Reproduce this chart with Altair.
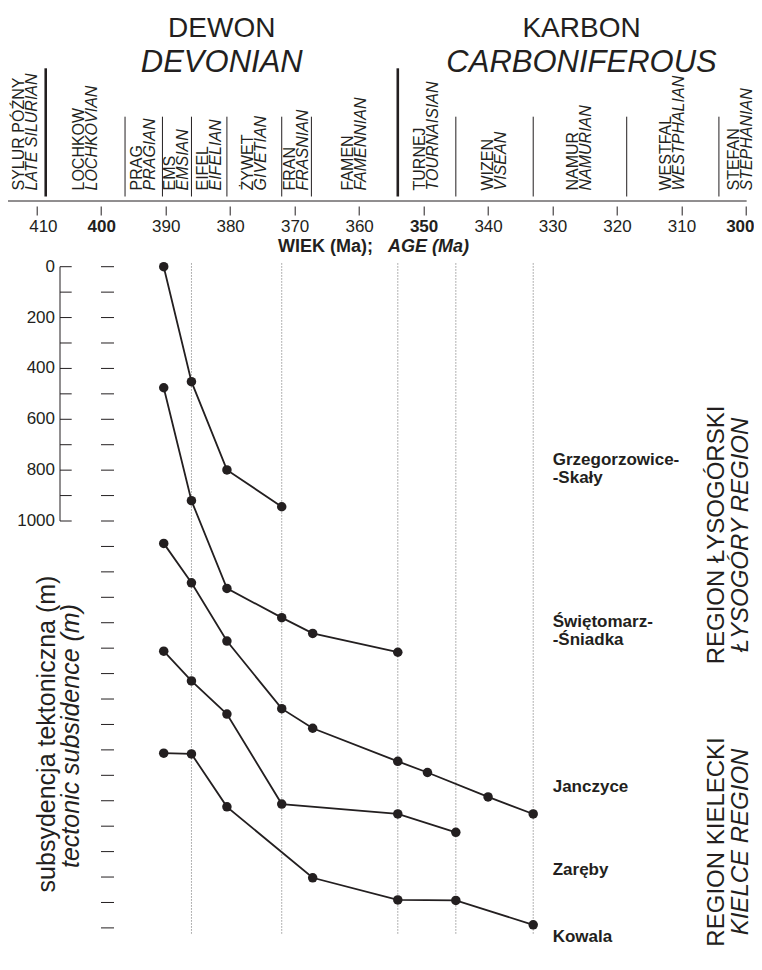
import altair as alt
import pandas as pd

FONT = "Liberation Sans"
INK = "#231f20"
GRID = "#9a9a9a"

# ---------------- data ----------------
# subsidence curves: age (Ma) and tectonic subsidence (m, curves offset for display)
grz_age = [390.3, 386.0, 380.5, 372.0]
grz_sub = [0, 452, 799, 944]
swi_age = [390.3, 386.0, 380.5, 372.0, 367.2, 354.0]
swi_sub = [476, 920, 1265, 1380, 1442, 1516]
jan_age = [390.3, 386.0, 380.5, 372.0, 367.2, 354.0, 349.4, 340.0, 333.0]
jan_sub = [1088, 1243, 1472, 1738, 1815, 1945, 1989, 2085, 2152]
zar_age = [390.3, 386.0, 380.5, 372.0, 354.0, 345.0]
zar_sub = [1512, 1629, 1759, 2113, 2152, 2224]
kow_age = [390.3, 386.0, 380.5, 367.2, 354.0, 345.0, 333.0]
kow_sub = [1913, 1916, 2124, 2403, 2490, 2492, 2588]
series_names = ["Grzegorzowice-Skały", "Świętomarz-Śniadka", "Janczyce", "Zaręby", "Kowala"]

# site labels (two-line names split) and the depth of their baselines
site_label_text = ["Grzegorzowice-", "-Skały", "Świętomarz-", "-Śniadka", "Janczyce", "Zaręby", "Kowala"]
site_label_depth = [780, 849, 1416, 1488, 2064, 2392, 2654]

# chronostratigraphy
stage_bounds = [414.8, 408.6, 396.3, 390.5, 386.0, 380.5, 372.0, 367.4, 354.0, 345.0, 333.0, 318.5, 304.2, 297.6]
stage_pl = ["SYLUR PÓŹNY", "LOCHKOW", "PRAG", "EMS", "EIFEL", "ŻYWET", "FRAN", "FAMEN",
            "TURNEJ", "WIZEN", "NAMUR", "WESTFAL", "STEFAN"]
stage_en = ["LATE SILURIAN", "LOCHKOVIAN", "PRAGIAN", "EMSIAN", "EIFELIAN", "GIVETIAN", "FRASNIAN",
            "FAMENNIAN", "TOURNAISIAN", "VISEAN", "NAMURIAN", "WESTPHALIAN", "STEPHANIAN"]
period_bounds = [408.6, 354.0]
grid_ages = [386.0, 372.0, 354.0, 345.0, 333.0]
era_pl = ["DEWON", "KARBON"]
era_en = ["DEVONIAN", "CARBONIFEROUS"]
era_start = [408.6, 354.0]
era_end = [354.0, 297.0]

age_ticks = [410, 400, 390, 380, 370, 360, 350, 340, 330, 320, 310, 300]
age_extent = [414.65, 299.9]
depth_labels = [0, 200, 400, 600, 800, 1000]
depth_axis_ticks = list(range(0, 1001, 100))
depth_col_ticks = list(range(0, 2601, 100))

region_pl = ["REGION ŁYSOGÓRSKI", "REGION KIELECKI"]
region_en = ["ŁYSOGÓRY REGION", "KIELCE REGION"]
region_depth = [1055, 2262]

# ---------------- tables ----------------
rows = []
for name, ages, subs in zip(series_names,
                            [grz_age, swi_age, jan_age, zar_age, kow_age],
                            [grz_sub, swi_sub, jan_sub, zar_sub, kow_sub]):
    for i, (a, s) in enumerate(zip(ages, subs)):
        rows.append({"series": name, "age": a, "sub": s, "order": i})
df = pd.DataFrame(rows)

stage_mid = [(stage_bounds[i] + stage_bounds[i + 1]) / 2 for i in range(len(stage_pl))]
df_stage = pd.DataFrame({"age": stage_mid, "pl": stage_pl, "en": stage_en})
inner = stage_bounds[1:-1]
df_thin = pd.DataFrame({"age": [b for b in inner if b not in period_bounds]})
df_thick = pd.DataFrame({"age": period_bounds})
df_grid = pd.DataFrame({"age": grid_ages})
df_era = pd.DataFrame({"age": [(a + b) / 2 for a, b in zip(era_start, era_end)],
                       "pl": era_pl, "en": era_en})
df_base = pd.DataFrame({"age": [age_extent[0]], "a1": [age_extent[1]]})
df_axline = pd.DataFrame({"sub": [depth_axis_ticks[0]], "d1": [depth_axis_ticks[-1]]})
df_t1 = pd.DataFrame({"sub": depth_axis_ticks})
df_t2 = pd.DataFrame({"sub": depth_col_ticks})
df_ylab = pd.DataFrame({"sub": depth_labels, "t": [str(v) for v in depth_labels]})
df_site = pd.DataFrame({"t": site_label_text, "sub": site_label_depth})
df_region = pd.DataFrame({"pl": region_pl, "en": region_en, "sub": region_depth})
df_one = pd.DataFrame({"k": [0]})

xs = alt.Scale(domain=[300, 410], reverse=True, nice=False, zero=False)
ys = alt.Scale(domain=[0, 2600], reverse=True, nice=False, zero=False)

W = 709.3
H = 661.2

x_axis = alt.Axis(orient="bottom", offset=-721.9, values=age_ticks, domain=False,
                  ticks=True, tickSize=9, tickColor=INK, tickWidth=1,
                  labelFont=FONT, labelFontSize=17, labelColor=INK, labelPadding=3.5,
                  labelFontWeight=alt.condition("datum.value % 50 === 0", alt.value("bold"), alt.value("normal")),
                  labelFlush=True, labelFlushOffset=8, labelOverlap=False, grid=False, title=None, format="d")


def X(f="age"):
    return alt.X(f, type="quantitative", scale=xs, axis=x_axis, title=None)


def Y(f="sub"):
    return alt.Y(f, type="quantitative", scale=ys, axis=None, title=None)


layers = []

# header: baseline of the time scale
layers.append(alt.Chart(df_base).mark_rule(color=INK, strokeWidth=1).encode(
    x=X(), x2="a1", y=alt.value(-65.7)))
# stage boundaries
layers.append(alt.Chart(df_thin).mark_rule(color=INK, strokeWidth=1).encode(
    x=X(), y=alt.value(-150), y2=alt.value(-70.2)))
layers.append(alt.Chart(df_thick).mark_rule(color=INK, strokeWidth=2.6).encode(
    x=X(), y=alt.value(-198.4), y2=alt.value(-70.2)))
# stage names
layers.append(alt.Chart(df_stage).mark_text(angle=270, align="left", baseline="middle", dy=-6.5,
                                            font=FONT, fontSize=16, color=INK).encode(
    x=X(), y=alt.value(-76.2), text="pl:N"))
layers.append(alt.Chart(df_stage).mark_text(angle=270, align="left", baseline="middle", dy=6.5,
                                            font=FONT, fontSize=16, fontStyle="italic", color=INK).encode(
    x=X(), y=alt.value(-76.2), text="en:N"))
# eras
layers.append(alt.Chart(df_era).mark_text(align="center", baseline="alphabetic", font=FONT,
                                          fontSize=28, color=INK).encode(
    x=X(), y=alt.value(-229.7), text="pl:N"))
layers.append(alt.Chart(df_era).mark_text(align="center", baseline="alphabetic", font=FONT,
                                          fontSize=31, fontStyle="italic", color=INK).encode(
    x=X(), y=alt.value(-194.7), text="en:N"))
# x axis title
layers.append(alt.Chart(df_one).mark_text(align="left", baseline="alphabetic", font=FONT, fontSize=18,
                                          fontWeight="bold", color=INK, text="WIEK (Ma);").encode(
    x=alt.value(241.3), y=alt.value(-15)))
layers.append(alt.Chart(df_one).mark_text(align="left", baseline="alphabetic", font=FONT, fontSize=18,
                                          fontWeight="bold", fontStyle="italic", color=INK, text="AGE (Ma)").encode(
    x=alt.value(351.3), y=alt.value(-15)))

# depth scale: axis line, ticks and labels
layers.append(alt.Chart(df_axline).mark_rule(color=INK, strokeWidth=1).encode(
    x=alt.value(23.3), y=Y(), y2="d1"))
layers.append(alt.Chart(df_t1).mark_rule(color=INK, strokeWidth=1).encode(
    x=alt.value(23.3), x2=alt.value(35), y=Y()))
layers.append(alt.Chart(df_t2).mark_rule(color=INK, strokeWidth=1).encode(
    x=alt.value(64.3), x2=alt.value(77.3), y=Y()))
layers.append(alt.Chart(df_ylab).mark_text(align="right", baseline="middle", font=FONT, fontSize=17,
                                           color=INK).encode(
    x=alt.value(18.3), y=Y(), text="t:N"))
# y title
layers.append(alt.Chart(df_one).mark_text(angle=270, align="center", baseline="alphabetic", font=FONT,
                                          fontSize=25, color=INK,
                                          text="subsydencja tektoniczna (m)").encode(
    x=alt.value(18.3), y=alt.value(467.3)))
layers.append(alt.Chart(df_one).mark_text(angle=270, align="center", baseline="alphabetic", font=FONT,
                                          fontSize=25, fontStyle="italic", color=INK,
                                          text="tectonic subsidence (m)").encode(
    x=alt.value(42.3), y=alt.value(469.3)))

# dotted stage-boundary guides
layers.append(alt.Chart(df_grid).mark_rule(color=GRID, strokeWidth=1, strokeDash=[1.5, 1.5]).encode(
    x=X(), y=alt.value(-3.5), y2=alt.value(668.3)))

# curves
layers.append(alt.Chart(df).mark_line(color=INK, strokeWidth=1.8).encode(
    x=X(), y=Y(), detail="series:N", order="order:Q"))
layers.append(alt.Chart(df).mark_circle(size=90, color=INK, opacity=1).encode(
    x=X(), y=Y()))

# site labels
layers.append(alt.Chart(df_site).mark_text(align="left", baseline="alphabetic", font=FONT, fontSize=17,
                                           fontWeight="bold", color=INK).encode(
    x=alt.value(516), y=Y(), text="t:N"))
# region labels
layers.append(alt.Chart(df_region).mark_text(angle=270, align="center", baseline="alphabetic", font=FONT,
                                             fontSize=24, color=INK).encode(
    x=alt.value(687.3), y=Y(), text="pl:N"))
layers.append(alt.Chart(df_region).mark_text(angle=270, align="center", baseline="alphabetic", font=FONT,
                                             fontSize=24, fontStyle="italic", color=INK).encode(
    x=alt.value(711.3), y=Y(), text="en:N"))

chart = alt.layer(*layers).properties(
    width=W, height=H,
    autosize=alt.AutoSizeParams(type="none"),
    padding={"left": 28.7, "top": 258.7, "right": 8, "bottom": 34.1},
    background="white",
).configure_view(stroke=None)

chart.save("out.html", embed_options={"renderer": "svg", "actions": False})
